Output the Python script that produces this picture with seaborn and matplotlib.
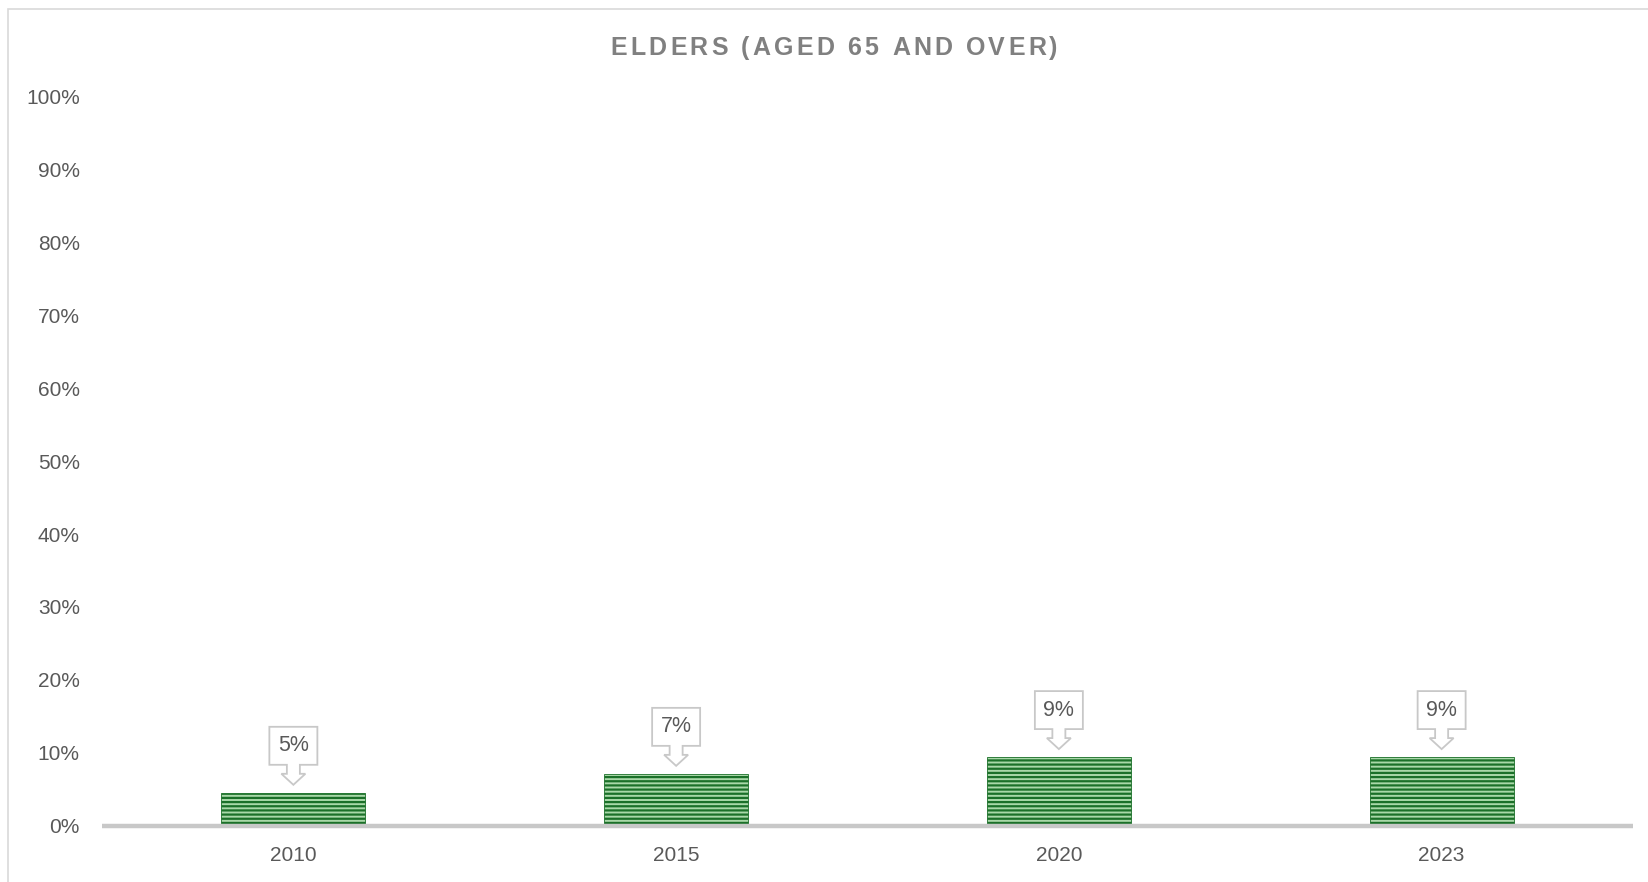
import matplotlib
matplotlib.use("Agg")
import matplotlib.pyplot as plt
import matplotlib.transforms as mtransforms
from matplotlib.patches import Polygon, Rectangle
from matplotlib.offsetbox import TextArea, HPacker, AnchoredOffsetbox
import numpy as np
import pandas as pd
import seaborn as sns

# data
years = ["2010", "2015", "2020", "2023"]
share = [4.5, 7.1, 9.4, 9.4]
share_labels = ["5%", "7%", "9%", "9%"]
y_ticks = [0, 10, 20, 30, 40, 50, 60, 70, 80, 90, 100]
title = "ELDERS (AGED 65 AND OVER)"

sns.set_style("white")
plt.rcParams["font.family"] = ["Liberation Sans", "DejaVu Sans"]
plt.rcParams["hatch.linewidth"] = 1.6

W, H, DPI = 1649, 882, 100
fig = plt.figure(figsize=(W / DPI, H / DPI), dpi=DPI)
ax = fig.add_axes([102 / W, 1 - 825.6 / H, (1633 - 102) / W, (825.6 - 96.8) / H])

df = pd.DataFrame({"year": years, "share": share})
sns.barplot(data=df, x="year", y="share", color="#a9d8a9", width=0.376,
            saturation=1, ax=ax)
for p in ax.patches:
    p.set_hatch("----")
    p.set_edgecolor("#1b7029")
    p.set_linewidth(0.6)

ax.set_ylim(0, 100)
ax.set_xlim(-0.5, len(years) - 0.5)
ax.set_yticks(y_ticks)
ax.set_yticklabels([f"{t}%" for t in y_ticks])
ax.set_xlabel("")
ax.set_ylabel("")
ax.tick_params(axis="both", length=0, labelsize=15, colors="#595959")
ax.tick_params(axis="y", pad=16)
ax.tick_params(axis="x", pad=15)
for s in ["top", "right", "left"]:
    ax.spines[s].set_visible(False)
ax.spines["bottom"].set_color("#c8c8c8")
ax.spines["bottom"].set_linewidth(3.2)
ax.spines["bottom"].set_capstyle("butt")

# callout shape (pixels, tip at origin, up positive)
shape_px = [(0, 0), (12, 11), (6.5, 11), (6.5, 20), (24, 20), (24, 58),
            (-24, 58), (-24, 20), (-6.5, 20), (-6.5, 11), (-12, 11)]
shape_in = np.array(shape_px) / DPI
for i, (v, lab) in enumerate(zip(share, share_labels)):
    trans = fig.dpi_scale_trans + mtransforms.ScaledTranslation(i, v, ax.transData)
    ax.add_patch(Polygon(shape_in + [0, 8 / DPI], closed=True, transform=trans,
                         facecolor="white", edgecolor="#c8c8c8", linewidth=1.3,
                         clip_on=False, zorder=5))
    ax.text(0, (8 + 39) / DPI, lab, transform=trans, ha="center", va="center",
            fontsize=15.5, color="#595959", zorder=6)

# spaced-out title
letters = [TextArea(c, textprops=dict(fontsize=18, fontweight="bold",
                                      color="#808080"))
           for c in title]
pack = HPacker(children=letters, align="baseline", pad=0, sep=2.3)
box = AnchoredOffsetbox(loc="center", child=pack, frameon=False,
                        bbox_to_anchor=(834 / W, 1 - 48 / H),
                        bbox_transform=fig.transFigure, borderpad=0, pad=0)
fig.add_artist(box)

# chart border
fig.add_artist(Rectangle((8.5 / W, -0.05), 1.2, 1 - 8.5 / H + 0.05,
                         transform=fig.transFigure, fill=False,
                         edgecolor="#d9d9d9", linewidth=1.2))

fig.savefig("out.png", dpi=DPI)
